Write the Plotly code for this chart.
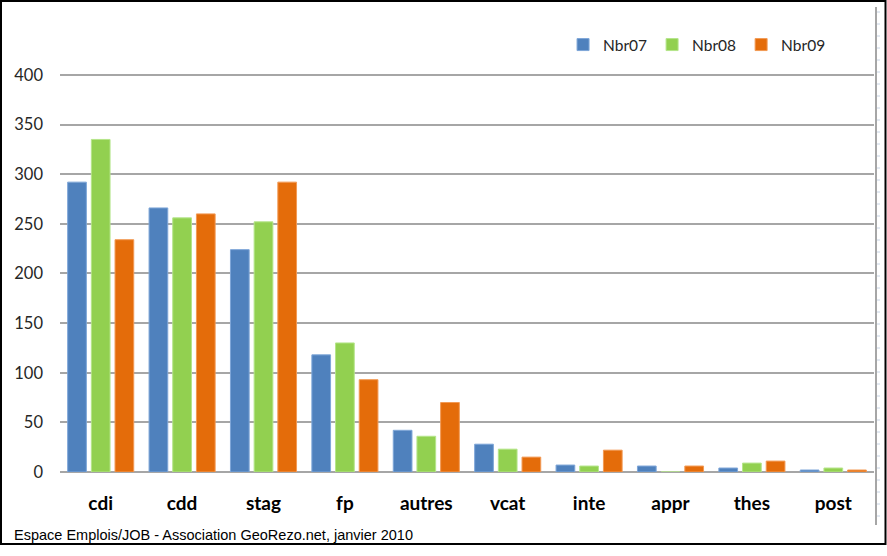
import plotly.graph_objects as go

categories = ["cdi", "cdd", "stag", "fp", "autres", "vcat", "inte", "appr", "thes", "post"]
nbr07 = [292, 266, 224, 118, 42, 28, 7, 6, 4, 2]
nbr08 = [335, 256, 252, 130, 36, 23, 6, 0, 9, 4]
nbr09 = [234, 260, 292, 93, 70, 15, 22, 6, 11, 2]
series_names = ["Nbr07", "Nbr08", "Nbr09"]
colors = ["#4F81BD", "#92D050", "#E46C0A"]
edge_colors = ["#7EA6D8", "#B5E58A", "#F29A55"]
y_ticks = [0, 50, 100, 150, 200, 250, 300, 350, 400]

W, H = 887, 556
L, R, T, B = 60, 13, 65, 84

fig = go.Figure()
for name, vals, c, ec in zip(series_names, [nbr07, nbr08, nbr09], colors, edge_colors):
    fig.add_trace(go.Bar(x=categories, y=vals, name=name,
                         marker=dict(color=c, line=dict(color=ec, width=1))))

pw = W - L - R
ph = H - T - B
def px_x(p):
    return (p - L) / pw
def px_y(p):
    return (H - B - p) / ph

shapes = [
    dict(type="rect", xref="paper", yref="paper",
         x0=px_x(1), x1=px_x(885.5), y0=px_y(544), y1=px_y(1),
         line=dict(color="black", width=2), fillcolor="rgba(0,0,0,0)", layer="above"),
    dict(type="line", xref="paper", yref="paper",
         x0=px_x(876), x1=px_x(876), y0=px_y(525), y1=px_y(7),
         line=dict(color="#A6A6A6", width=2)),
]
for k in range(43):
    yy = 12 + k * 12
    shapes.append(dict(type="line", xref="paper", yref="paper",
                       x0=px_x(877), x1=px_x(880), y0=px_y(yy), y1=px_y(yy),
                       line=dict(color="#C8D4E4", width=1)))

fig.update_layout(
    width=W, height=H,
    margin=dict(l=L, r=R, t=T, b=B, pad=0),
    paper_bgcolor="white", plot_bgcolor="white",
    barmode="group", bargap=0.127, bargroupgap=0.21,
    font=dict(family="Lato, Open Sans, sans-serif", size=16, color="#262626"),
    legend=dict(orientation="h", x=0.618, y=px_y(45), xanchor="left", yanchor="middle",
                font=dict(size=15.5, color="#262626"), itemwidth=30,
                traceorder="normal", bgcolor="rgba(0,0,0,0)"),
    showlegend=True,
    shapes=shapes,
    annotations=[dict(text="Espace Emplois/JOB - Association GeoRezo.net, janvier 2010",
                      xref="paper", yref="paper", x=px_x(12), y=px_y(535),
                      xanchor="left", yanchor="middle", showarrow=False,
                      font=dict(family="Liberation Sans, Arial, sans-serif", size=14.5, color="black"))],
)
fig.update_yaxes(range=[0, 410], tickvals=y_ticks, showgrid=True, gridcolor="#A6A6A6",
                 gridwidth=1.5, zeroline=True, zerolinecolor="#A6A6A6", zerolinewidth=1.5,
                 showline=False, ticks="", ticklabelstandoff=16,
                 tickfont=dict(size=16.5, color="#262626"))
fig.update_xaxes(showgrid=False, showline=False, ticks="", ticklabelstandoff=18,
                 tickfont=dict(size=19, color="black", weight="bold"))

fig.write_html("out.html", config={"displayModeBar": False},
               post_script="document.body.style.margin='0';")
